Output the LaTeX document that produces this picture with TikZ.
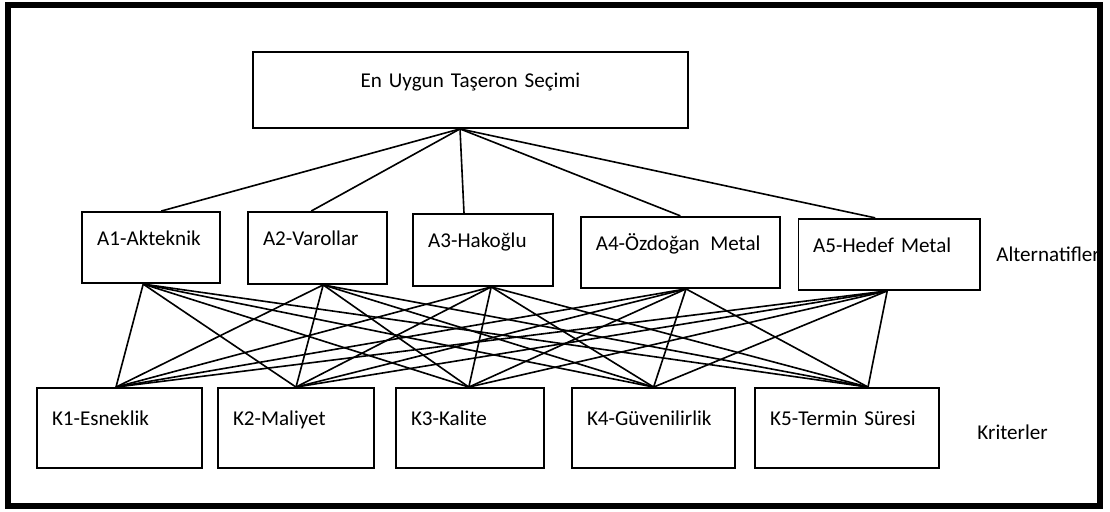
\documentclass[tikz,border=0pt]{standalone}
\usepackage{fontspec}
\setmainfont{Carlito}
\usepackage{tikz}
\usetikzlibrary{positioning,calc}

\tikzset{
  kutu/.style={draw, line width=1.3pt, inner xsep=0.37cm, align=left,
    text height=0.45cm, text depth=0.56cm, font=\fontsize{15pt}{18pt}\selectfont},
  etiket/.style={anchor=west, inner sep=0pt, font=\fontsize{15pt}{18pt}\selectfont},
  hat/.style={line width=1.15pt}
}

\begin{document}
\begin{tikzpicture}
\useasboundingbox (0,0) rectangle (27.75,12.8);
% Goal
\node[kutu, align=center, text width=10.13cm, minimum height=1.9cm] (T) at (11.76,10.55) {En Uygun Taşeron Seçimi};

% Alternatives
\node[kutu, text width=2.7cm, minimum height=1.78cm] (A1) at (3.78,6.61) {A1-Akteknik};
\node[kutu, text width=2.73cm, minimum height=1.8cm] (A2) at (7.94,6.6) {A2-Varollar};
\node[kutu, text width=2.75cm, minimum height=1.8cm] (A3) at (12.08,6.55) {A3-Hakoğlu};
\node[kutu, text width=4.23cm, minimum height=1.78cm] (A4) at (17.01,6.49) {A4-Özdoğan\ \,Metal};
\node[kutu, text width=3.8cm, minimum height=1.78cm] (A5) at (22.23,6.44) {A5-Hedef Metal};
\node[etiket] (alt) at (24.9,6.45) {Alternatifler};

% Criteria
\node[kutu, text width=3.38cm, minimum height=2cm] (K1) at (2.99,2.1) {K1-Esneklik};
\node[kutu, text width=3.15cm, minimum height=2cm] (K2) at (7.4,2.1) {K2-Maliyet};
\node[kutu, text width=2.95cm, minimum height=2cm] (K3) at (11.75,2.1) {K3-Kalite};
\node[kutu, text width=3.33cm, minimum height=2cm] (K4) at (16.34,2.1) {K4-Güvenilirlik};
\node[kutu, text width=3.85cm, minimum height=2cm] (K5) at (21.18,2.1) {K5-Termin Süresi};
\node[etiket] (krt) at (24.43,2.0) {Kriterler};

% Connection points
\coordinate (T-b) at ([xshift=-0.26cm]T.south);
\foreach \n/\d in {A1/0.25, A2/-0.16, A3/-0.48, A4/0, A5/-0.35}
  \coordinate (\n-t) at ([xshift=\d cm]\n.north);
\foreach \n/\d in {A1/-0.2, A2/0.14, A3/0.2, A4/0.14, A5/-0.05}
  \coordinate (\n-b) at ([xshift=\d cm]\n.south);
\foreach \n/\d in {K1/-0.09, K2/0, K3/-0.03, K4/0, K5/0.52}
  \coordinate (\n-t) at ([xshift=\d cm]\n.north);

% Lines
\foreach \a in {A1,A2,A3,A4,A5}
  \draw[hat] (T-b) -- (\a-t);
\foreach \a in {A1,A2,A3,A4,A5}
  \foreach \k in {K1,K2,K3,K4,K5}
    \draw[hat] (\a-b) -- (\k-t);

% Frame
\draw[line width=4.3pt] (0.2,0.15) rectangle (27.5,12.675);
\end{tikzpicture}
\end{document}
